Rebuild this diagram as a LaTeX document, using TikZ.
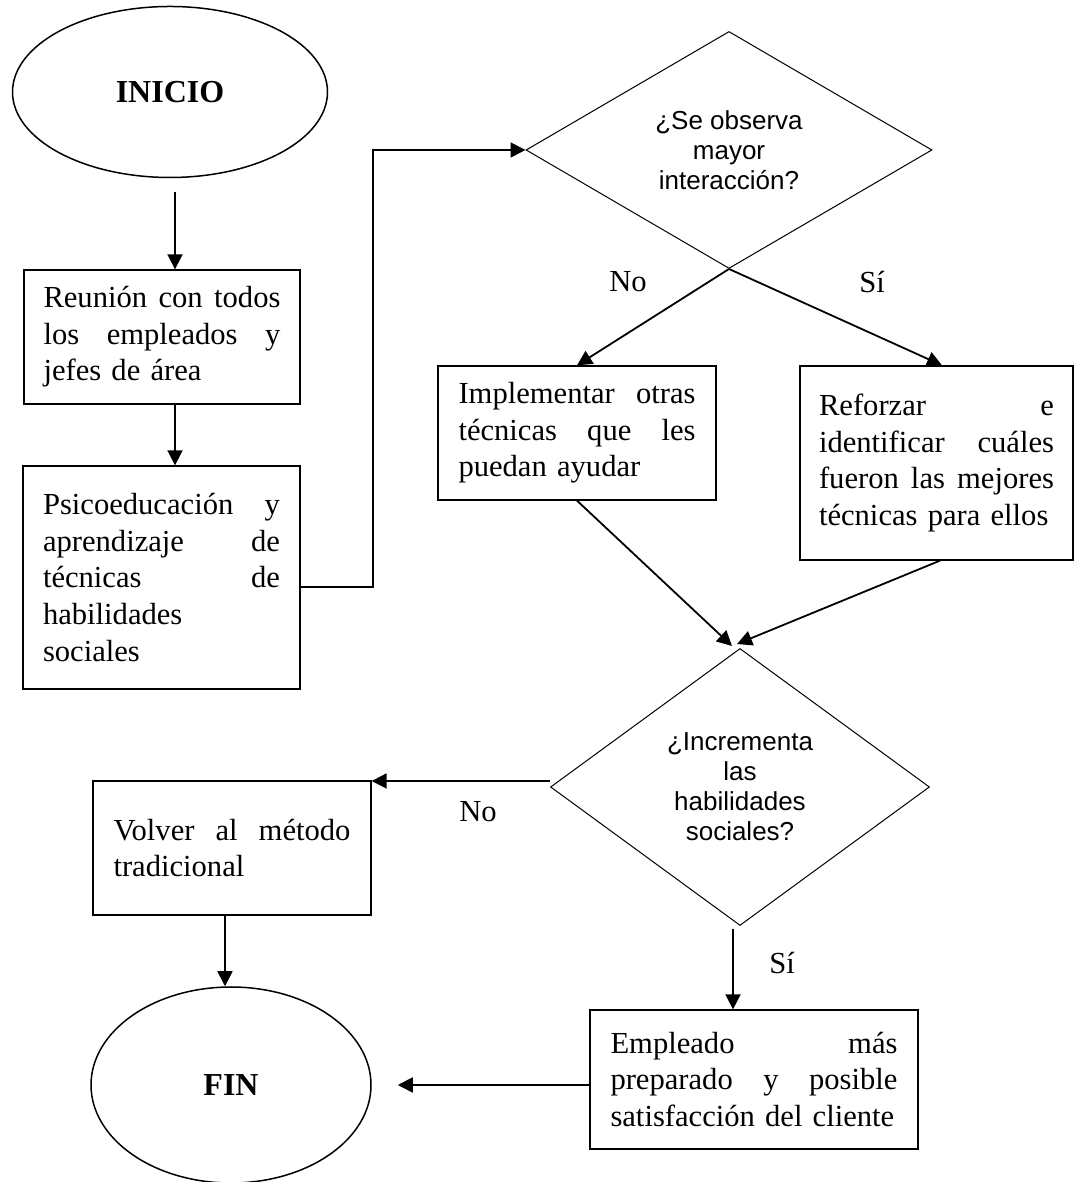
\documentclass[tikz,border=0pt]{standalone}
\usepackage{fontspec}
\setmainfont{Liberation Serif}
\newfontfamily\sansf{Liberation Sans}
\usetikzlibrary{shapes.geometric,arrows.meta,calc}
\newcommand{\jl}[2][237pt]{\makebox[#1][l]{#2}}
\begin{document}
\begin{tikzpicture}[x=1pt,y=1pt,
  arr/.style={line width=1.8pt,-{Triangle[length=15pt,width=15pt]}},
  procbox/.style={draw,line width=1.3pt,rectangle,inner sep=0pt,align=left,font=\fontsize{30.6}{36.6}\selectfont},
  terminal/.style={draw,ellipse,line width=1.5pt,inner sep=0pt,font=\fontsize{32}{36.8}\selectfont\bfseries},
  decision/.style={draw,diamond,line width=1pt,inner sep=0pt,aspect=1.7,align=center,font=\sansf\fontsize{26}{30}\selectfont},
  lbl/.style={inner sep=0pt,font=\fontsize{30.6}{36.6}\selectfont}]
\useasboundingbox (0,0) rectangle (1074,1182);
\fill[white] (0,0) rectangle (1074,1182);

\node[terminal,minimum width=315pt,minimum height=171pt] (inicio) at (170,1090) {INICIO};
\node[procbox,text width=237pt,minimum width=276pt,minimum height=134pt] (box1) at (162,845)
  {\jl{Reunión\hfill con\hfill todos}\\\jl{los\hfill empleados\hfill y}\\jefes de área};
\node[procbox,text width=237pt,minimum width=277pt,minimum height=223pt] (box2) at (161.5,604.5)
  {\jl{Psicoeducación\hfill y}\\\jl{aprendizaje\hfill de}\\\jl{técnicas\hfill de}\\habilidades\\sociales};
\node[decision,minimum width=406pt,minimum height=237pt] (d1) at (729,1032)
  {¿Se observa\\mayor\\interacción?};
\node[procbox,text width=237pt,minimum width=278pt,minimum height=134pt] (box3) at (577,749)
  {\jl{Implementar\hfill otras}\\\jl{técnicas\hfill que\hfill les}\\puedan ayudar};
\node[procbox,text width=235pt,minimum width=273pt,minimum height=194pt] (box4) at (936.5,719)
  {\jl[235pt]{Reforzar\hfill e}\\\jl[235pt]{identificar\hfill cuáles}\\\jl[235pt]{fueron\hfill las\hfill mejores}\\técnicas para ellos};
\node[decision,minimum width=379pt,minimum height=277pt] (d2) at (740,395)
  {¿Incrementa\\las\\habilidades\\sociales?};
\node[procbox,text width=237pt,minimum width=278pt,minimum height=134pt] (box5) at (232,334)
  {\jl{Volver\hfill al\hfill método}\\tradicional};
\node[terminal,minimum width=280pt,minimum height=196pt] (fin) at (231,97) {FIN};
\node[procbox,text width=287pt,minimum width=328pt,minimum height=139pt] (box6) at (754,102.5)
  {\jl[287pt]{Empleado\hfill más}\\\jl[287pt]{preparado\hfill y\hfill posible}\\\mbox{satisfacción del cliente}};

\node[lbl] (no1) at (628,900) {No};
\node[lbl] (si1) at (872,900) {Sí};
\node[lbl] (no2) at (478,370) {No};
\node[lbl] (si2) at (782,219) {Sí};

\coordinate (a1) at ([shift={(5pt,-14pt)}]inicio.south);
\draw[arr] (a1) -- (a1 |- box1.north);
\coordinate (b1) at ([xshift=13pt]box1.south);
\draw[arr] (b1) -- (b1 |- box2.north);
\coordinate (b2) at ([yshift=-9.5pt]box2.east);
\draw[arr] (b2) -- ++(72,0) |- (d1.west);
\draw[arr] (d1.south) -- (box3.north);
\draw[arr] (d1.south) -- ([xshift=5.5pt]box4.north);
\draw[arr] (box3.south) -- ([shift={(-8pt,2pt)}]d2.north);
\draw[arr] ([xshift=3.5pt]box4.south) -- ([shift={(-3pt,4pt)}]d2.north);
\coordinate (d2w) at ([yshift=6pt]d2.west);
\draw[arr] (d2w) -- (d2w -| box5.east);
\coordinate (b5) at ([xshift=-7pt]box5.south);
\draw[arr] (b5) -- (b5 |- fin.north);
\coordinate (d2s) at ([shift={(-7pt,-3pt)}]d2.south);
\draw[arr] (d2s) -- (d2s |- box6.north);
\coordinate (b6) at ([yshift=-5.5pt]box6.west);
\coordinate (f6) at ([xshift=26pt]fin.east);
\draw[arr] (b6) -- (b6 -| f6);
\end{tikzpicture}
\end{document}
